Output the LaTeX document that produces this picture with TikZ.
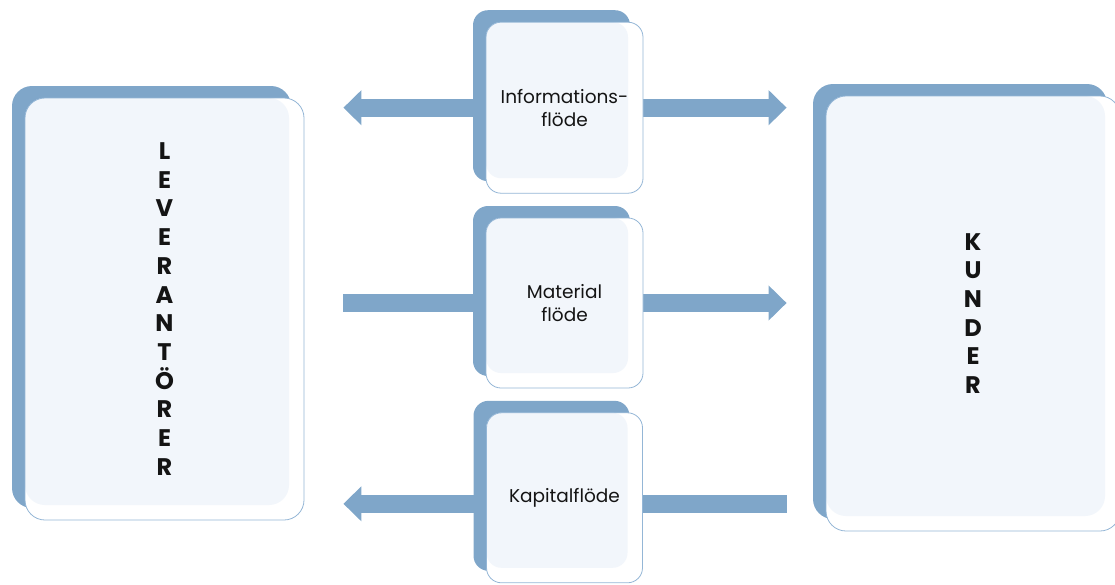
\documentclass[tikz,border=0pt]{standalone}
\usepackage{fontspec}
\setmainfont{Poppins}
\usetikzlibrary{arrows.meta,positioning,backgrounds}
\definecolor{cardblue}{HTML}{7FA6C9}
\definecolor{tintcard}{HTML}{F2F6FB}
\definecolor{rimblue}{HTML}{94B6D6}
\definecolor{inkblack}{HTML}{141414}
\tikzset{
  cardnode/.style={draw=rimblue,line width=0.8pt,fill=white,rounded corners=#1,align=center,inner sep=0pt,text=inkblack,
    preaction={fill=cardblue,transform canvas={shift={(-13pt,12pt)}}},
    path picture={\fill[tintcard,rounded corners=#1] (path picture bounding box.north west) rectangle ([xshift=-15pt,yshift=15pt]path picture bounding box.south east);}},
  cardnode/.default=15pt,
  flowarrow/.style={-{Triangle[length=18pt,width=34pt]},draw=cardblue,line width=18pt},
  flowbar/.style={draw=cardblue,line width=18pt},
  stackfont/.style={font=\bfseries\fontsize{24}{28.7}\selectfont},
  flowfont/.style={font=\fontsize{18.5}{23}\selectfont},
}
\begin{document}
\begin{tikzpicture}[x=1pt,y=-1pt,node distance=24pt]
  \useasboundingbox (0,0) rectangle (1115,584);
  \clip (0,0) rectangle (1115,584);
  % parties
  \node[cardnode=20pt,stackfont,minimum width=279pt,minimum height=422pt] (lev) at (164.5,309)
    {L\\E\\V\\E\\R\\A\\N\\T\\Ö\\R\\E\\R};
  \node[cardnode=20pt,stackfont,minimum width=294pt,minimum height=435pt] (kund) at (973,313.5)
    {K\\U\\N\\D\\E\\R};
  % flows
  \node[cardnode,flowfont,minimum width=157pt,minimum height=170pt] (mat) at (564.5,303) {Material\\flöde};
  \node[cardnode,flowfont,minimum width=157pt,minimum height=171pt,above=of mat] (info) {Informations-\\flöde};
  \node[cardnode,flowfont,minimum width=156pt,minimum height=170pt,below=of mat] (kap) {Kapitalflöde};
  \coordinate (levtip) at ([xshift=39pt]lev.east);
  \coordinate (kundtip) at ([xshift=-39pt]kund.west);
  \begin{scope}[on background layer]
    \draw[flowarrow] (info.west) -- (info.west -| levtip);
    \draw[flowarrow] (info.east) -- (info.east -| kundtip);
    \draw[flowbar] (mat.west) -- (mat.west -| levtip);
    \draw[flowarrow] (mat.east) -- (mat.east -| kundtip);
    \draw[flowarrow] ([yshift=-6pt]kap.west) -- ([yshift=-6pt]kap.west -| levtip);
    \draw[flowbar] ([yshift=-6pt]kap.east) -- ([yshift=-6pt]kap.east -| kundtip);
  \end{scope}
\end{tikzpicture}
\end{document}
